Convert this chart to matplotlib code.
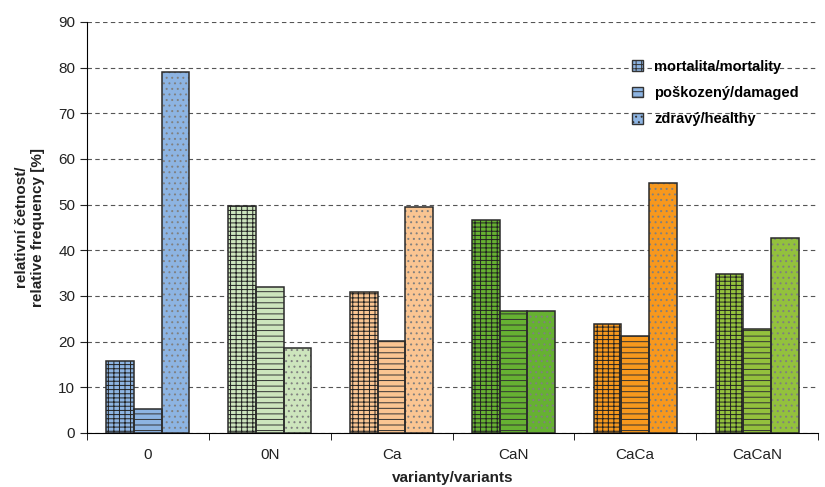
import numpy as np
import matplotlib.pyplot as plt
from matplotlib.patches import Patch

plt.rcParams["font.family"] = ["Liberation Sans", "DejaVu Sans"]
plt.rcParams["hatch.linewidth"] = 0.7

varianty = ["0", "0N", "Ca", "CaN", "CaCa", "CaCaN"]
mortalita = [15.8, 49.6, 30.8, 46.6, 23.9, 34.9]
poskozeny = [5.2, 31.9, 20.1, 26.7, 21.2, 22.7]
zdravy = [79.1, 18.7, 49.5, 26.7, 54.7, 42.6]
barvy = ["#8db4e2", "#cde5bd", "#fac592", "#66b132", "#f7981d", "#93c13d"]
serie = ["mortalita/mortality", "poškozený/damaged", "zdravý/healthy"]
srafy = ["+++-", "---", "..."]
barvy_srafy = ["#222222", "#333333", "#808080"]

fig = plt.figure(figsize=(8.25, 4.87), dpi=100)
ax = fig.add_axes([0.1055, 0.111, 0.886, 0.844])

x = np.arange(len(varianty))
sirka = 0.227
for i, hodnoty in enumerate([mortalita, poskozeny, zdravy]):
    pozice = x + (i - 1) * sirka
    # výplň se šrafou, obrys zvlášť
    ax.bar(pozice, hodnoty, sirka, color=barvy, edgecolor=barvy_srafy[i],
           linewidth=0, hatch=srafy[i], zorder=3)
    ax.bar(pozice, hodnoty, sirka, fill=False, edgecolor="#2a2a2a",
           linewidth=1.1, zorder=4)

ax.set_xlim(-0.5, len(varianty) - 0.5)
ax.set_ylim(0, 90)
ax.set_yticks(range(0, 91, 10))
ax.set_xticks(x, varianty, fontsize=11)
ax.set_xticks(np.arange(-0.5, len(varianty)), minor=True)
ax.tick_params(axis="x", which="major", length=0, pad=11, colors="#222222")
ax.tick_params(axis="x", which="minor", length=5, direction="out")
ax.tick_params(axis="y", length=5, labelsize=11, colors="#222222")
ax.grid(axis="y", linestyle=(0, (4, 3)), color="#555555", linewidth=0.8, zorder=0)
for s in ["top", "right"]:
    ax.spines[s].set_visible(False)
ax.set_xlabel("varianty/variants", fontweight="bold", fontsize=11, color="#222222")
ax.xaxis.set_label_coords(0.5, -0.093)
ax.set_ylabel("relativní četnost/\nrelative frequency [%]", fontweight="bold",
              fontsize=11, color="#222222", linespacing=1.15)
ax.yaxis.set_label_coords(-0.058, 0.5)

polozky = [Patch(facecolor=barvy[0], edgecolor="#333333", hatch=h, label=s)
           for s, h in zip(serie, srafy)]
leg = ax.legend(handles=polozky, loc="upper left", bbox_to_anchor=(0.727, 0.94),
                frameon=False, prop={"weight": "bold", "size": 10.5},
                handlelength=0.75, handleheight=0.75, handletextpad=0.8,
                labelspacing=0.85)
leg.set_zorder(5)

fig.savefig("out.png", dpi=100)
